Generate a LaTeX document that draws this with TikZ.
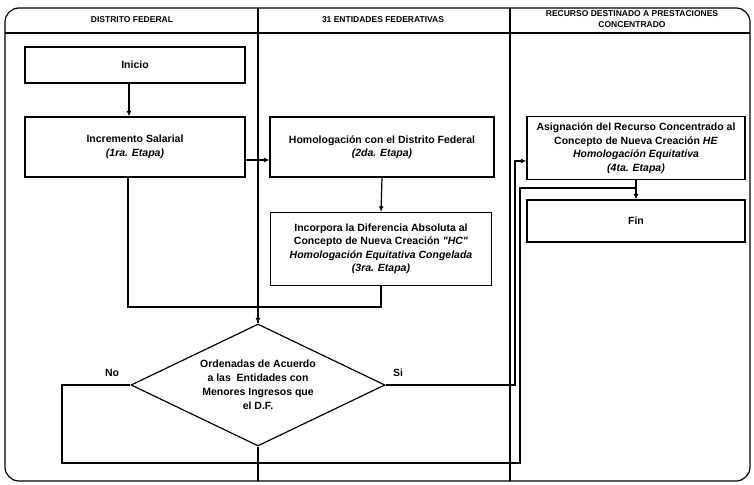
\documentclass[tikz,border=0pt]{standalone}
\usepackage{fontspec}
\setmainfont{Liberation Sans}
\usetikzlibrary{shapes.geometric,arrows.meta}
\begin{document}
\begin{tikzpicture}[x=1pt,y=-1pt,
  line width=1.2pt,
  box/.style={draw,rectangle,align=center,font=\bfseries\fontsize{10.5}{13.5}\selectfont,inner sep=2pt},
  hdr/.style={align=center,font=\bfseries\fontsize{8.5}{11}\selectfont},
  lbl/.style={font=\bfseries\fontsize{10.5}{12}\selectfont},
  arr/.style={-{Latex[length=5.5pt,width=5pt]}}]
\useasboundingbox (0,0) rectangle (754,484);
% frame
\draw[rounded corners=14pt] (5,8) rectangle (750,481);
\draw (5,33) -- (750,33);
\node[hdr] (h1) at (132,20) {DISTRITO FEDERAL};
\node[hdr] (h2) at (383,20) {31 ENTIDADES FEDERATIVAS};
\node[hdr] (h3) at (632,19) {RECURSO DESTINADO A PRESTACIONES\\CONCENTRADO};
% nodes
\node[box,minimum width=220pt,minimum height=36pt] (ini) at (135,65) {Inicio};
\node[box,minimum width=220pt,minimum height=60pt] (inc) at (135,147) {Incremento Salarial\\\textit{(1ra. Etapa)}};
\node[box,minimum width=224pt,minimum height=60pt] (hom) at (382,147) {Homologación con el Distrito Federal\\\textit{(2da. Etapa)}};
\node[box,minimum width=221pt,minimum height=73pt] (inco) at (381,249) {Incorpora la Diferencia Absoluta al\\Concepto de Nueva Creación \textit{\textquotedbl HC\textquotedbl}\\\textit{Homologación Equitativa Congelada}\\\textit{(3ra. Etapa)}};
\node[box,minimum width=218pt,minimum height=63pt] (asig) at (636,148) {Asignación del Recurso Concentrado al\\Concepto de Nueva Creación \textit{HE}\\\textit{Homologación Equitativa}\\\textit{(4ta. Etapa)}};
\node[box,minimum width=218pt,minimum height=42pt] (fin) at (636,221) {Fin};
\node[draw,diamond,aspect=2.08,minimum width=254pt,minimum height=122pt,inner sep=0pt,align=center,font=\bfseries\fontsize{10.5}{14}\selectfont] (dec) at (258,385) {Ordenadas de Acuerdo\\a las\ \ Entidades con\\Menores Ingresos que\\el D.F.};
% column dividers
\coordinate (top1) at (258,8);
\coordinate (bot1) at (258,481);
\coordinate (top2) at (510,8);
\coordinate (bot2) at (510,481);
\draw (top1) -- (dec.north);
\draw (dec.south) -- (bot1);
\draw (top2) -- (bot2);
% connectors
\draw[arr] ([xshift=-6pt]ini.south) -- ([xshift=-6pt]inc.north);
\draw[arr] ([yshift=-13pt]inc.east) -- ([yshift=-13pt]hom.west);
\draw[arr] (hom.south) -- (inco.north);
\coordinate (j1) at (258,307);
\draw ([xshift=-7pt]inc.south) |- (j1);
\draw (inco.south) |- (j1);
\draw[arr] (j1) -- (dec.north);
% Si branch
\coordinate (s1) at (515,385);
\draw[arr] (dec.east) -- (s1) |- ([yshift=-13pt]asig.west);
% No branch
\coordinate (n1) at (62,463);
\coordinate (n2) at (520,188);
\draw (dec.west) -| (n1) -- (n1 -| n2) -- (n2) -- (n2 -| fin.north);
\draw[arr] (asig.south) -- (fin.north);
\node[lbl] (no) at (112,373) {No};
\node[lbl] (si) at (398,373) {Si};
\end{tikzpicture}
\end{document}
